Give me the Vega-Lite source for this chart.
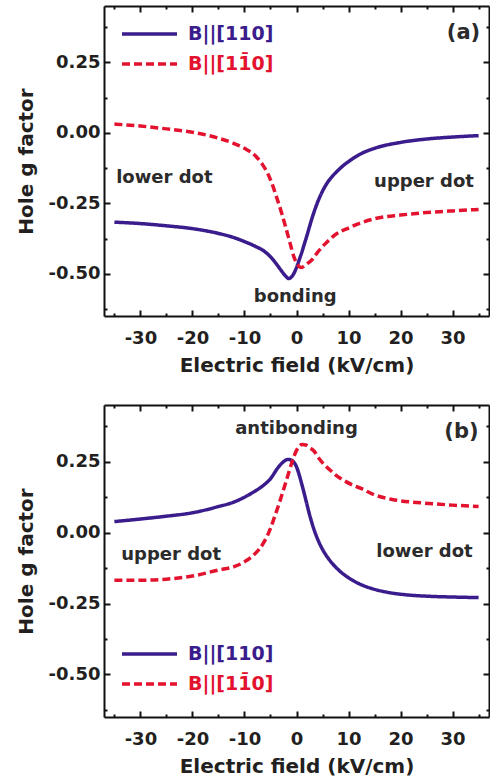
{
  "$schema": "https://vega.github.io/schema/vega-lite/v6.json",
  "padding": {"left": 16, "top": 5, "right": 0, "bottom": 0},
  "background": "white",
  "config": {
    "view": {"stroke": null},
    "font": "DejaVu Sans",
    "axis": {
      "grid": false,
      "domainColor": "#111111",
      "domainWidth": 2,
      "tickColor": "#111111",
      "tickWidth": 2,
      "labelFont": "DejaVu Sans",
      "labelFontWeight": "bold",
      "labelFontSize": 18,
      "labelColor": "#231f20",
      "labelOverlap": false,
      "labelFlush": false,
      "titleFont": "DejaVu Sans",
      "titleFontWeight": "bold",
      "titleFontSize": 20,
      "titleColor": "#231f20"
    }
  },
  "datasets": {
    "curvesA": [
      {"series": "B||[110]", "E": -35, "g": -0.317},
      {"series": "B||[110]", "E": -30, "g": -0.322},
      {"series": "B||[110]", "E": -25, "g": -0.330},
      {"series": "B||[110]", "E": -20, "g": -0.340},
      {"series": "B||[110]", "E": -15, "g": -0.357},
      {"series": "B||[110]", "E": -12, "g": -0.372},
      {"series": "B||[110]", "E": -10, "g": -0.386},
      {"series": "B||[110]", "E": -8, "g": -0.402},
      {"series": "B||[110]", "E": -6, "g": -0.423},
      {"series": "B||[110]", "E": -5, "g": -0.440},
      {"series": "B||[110]", "E": -4, "g": -0.462},
      {"series": "B||[110]", "E": -3, "g": -0.487},
      {"series": "B||[110]", "E": -2, "g": -0.510},
      {"series": "B||[110]", "E": -1.5, "g": -0.517},
      {"series": "B||[110]", "E": -1, "g": -0.512},
      {"series": "B||[110]", "E": -0.5, "g": -0.499},
      {"series": "B||[110]", "E": 0, "g": -0.478},
      {"series": "B||[110]", "E": 0.5, "g": -0.452},
      {"series": "B||[110]", "E": 1, "g": -0.425},
      {"series": "B||[110]", "E": 1.5, "g": -0.395},
      {"series": "B||[110]", "E": 2, "g": -0.365},
      {"series": "B||[110]", "E": 2.5, "g": -0.333},
      {"series": "B||[110]", "E": 3, "g": -0.302},
      {"series": "B||[110]", "E": 3.5, "g": -0.274},
      {"series": "B||[110]", "E": 4, "g": -0.249},
      {"series": "B||[110]", "E": 5, "g": -0.207},
      {"series": "B||[110]", "E": 6, "g": -0.175},
      {"series": "B||[110]", "E": 7, "g": -0.152},
      {"series": "B||[110]", "E": 8, "g": -0.133},
      {"series": "B||[110]", "E": 9, "g": -0.116},
      {"series": "B||[110]", "E": 10, "g": -0.102},
      {"series": "B||[110]", "E": 12, "g": -0.078},
      {"series": "B||[110]", "E": 15, "g": -0.055},
      {"series": "B||[110]", "E": 20, "g": -0.034},
      {"series": "B||[110]", "E": 25, "g": -0.022},
      {"series": "B||[110]", "E": 30, "g": -0.015},
      {"series": "B||[110]", "E": 35, "g": -0.010},
      {"series": "B||[11\u03040]", "E": -35, "g": 0.031},
      {"series": "B||[11\u03040]", "E": -30, "g": 0.024},
      {"series": "B||[11\u03040]", "E": -25, "g": 0.014},
      {"series": "B||[11\u03040]", "E": -20, "g": 0.002},
      {"series": "B||[11\u03040]", "E": -15, "g": -0.019},
      {"series": "B||[11\u03040]", "E": -12, "g": -0.038},
      {"series": "B||[11\u03040]", "E": -10, "g": -0.055},
      {"series": "B||[11\u03040]", "E": -8, "g": -0.080},
      {"series": "B||[11\u03040]", "E": -6.6, "g": -0.111},
      {"series": "B||[11\u03040]", "E": -5.5, "g": -0.145},
      {"series": "B||[11\u03040]", "E": -4.7, "g": -0.181},
      {"series": "B||[11\u03040]", "E": -3.8, "g": -0.230},
      {"series": "B||[11\u03040]", "E": -2.8, "g": -0.288},
      {"series": "B||[11\u03040]", "E": -2, "g": -0.340},
      {"series": "B||[11\u03040]", "E": -1.2, "g": -0.394},
      {"series": "B||[11\u03040]", "E": -0.5, "g": -0.440},
      {"series": "B||[11\u03040]", "E": 0.1, "g": -0.464},
      {"series": "B||[11\u03040]", "E": 0.6, "g": -0.476},
      {"series": "B||[11\u03040]", "E": 1, "g": -0.478},
      {"series": "B||[11\u03040]", "E": 1.5, "g": -0.472},
      {"series": "B||[11\u03040]", "E": 2, "g": -0.465},
      {"series": "B||[11\u03040]", "E": 2.9, "g": -0.452},
      {"series": "B||[11\u03040]", "E": 4, "g": -0.425},
      {"series": "B||[11\u03040]", "E": 5.5, "g": -0.394},
      {"series": "B||[11\u03040]", "E": 7, "g": -0.368},
      {"series": "B||[11\u03040]", "E": 8.5, "g": -0.350},
      {"series": "B||[11\u03040]", "E": 10, "g": -0.338},
      {"series": "B||[11\u03040]", "E": 12, "g": -0.322},
      {"series": "B||[11\u03040]", "E": 15, "g": -0.305},
      {"series": "B||[11\u03040]", "E": 20, "g": -0.292},
      {"series": "B||[11\u03040]", "E": 25, "g": -0.283},
      {"series": "B||[11\u03040]", "E": 30, "g": -0.277},
      {"series": "B||[11\u03040]", "E": 35, "g": -0.272}
    ],
    "curvesB": [
      {"series": "B||[110]", "E": -35, "g": 0.039},
      {"series": "B||[110]", "E": -30, "g": 0.048},
      {"series": "B||[110]", "E": -25, "g": 0.058},
      {"series": "B||[110]", "E": -20, "g": 0.070},
      {"series": "B||[110]", "E": -15, "g": 0.092},
      {"series": "B||[110]", "E": -12, "g": 0.108},
      {"series": "B||[110]", "E": -10, "g": 0.125},
      {"series": "B||[110]", "E": -8, "g": 0.146},
      {"series": "B||[110]", "E": -6.2, "g": 0.169},
      {"series": "B||[110]", "E": -5, "g": 0.190},
      {"series": "B||[110]", "E": -3.6, "g": 0.228},
      {"series": "B||[110]", "E": -2.5, "g": 0.250},
      {"series": "B||[110]", "E": -1.7, "g": 0.258},
      {"series": "B||[110]", "E": -1.2, "g": 0.257},
      {"series": "B||[110]", "E": -0.6, "g": 0.250},
      {"series": "B||[110]", "E": 0, "g": 0.232},
      {"series": "B||[110]", "E": 0.5, "g": 0.205},
      {"series": "B||[110]", "E": 1, "g": 0.172},
      {"series": "B||[110]", "E": 1.5, "g": 0.137},
      {"series": "B||[110]", "E": 2, "g": 0.100},
      {"series": "B||[110]", "E": 2.5, "g": 0.064},
      {"series": "B||[110]", "E": 3, "g": 0.032},
      {"series": "B||[110]", "E": 3.5, "g": 0.004},
      {"series": "B||[110]", "E": 4, "g": -0.020},
      {"series": "B||[110]", "E": 4.5, "g": -0.041},
      {"series": "B||[110]", "E": 5, "g": -0.059},
      {"series": "B||[110]", "E": 6, "g": -0.088},
      {"series": "B||[110]", "E": 7, "g": -0.111},
      {"series": "B||[110]", "E": 8, "g": -0.130},
      {"series": "B||[110]", "E": 9, "g": -0.146},
      {"series": "B||[110]", "E": 10, "g": -0.159},
      {"series": "B||[110]", "E": 12, "g": -0.180},
      {"series": "B||[110]", "E": 15, "g": -0.200},
      {"series": "B||[110]", "E": 18, "g": -0.212},
      {"series": "B||[110]", "E": 21, "g": -0.219},
      {"series": "B||[110]", "E": 25, "g": -0.224},
      {"series": "B||[110]", "E": 30, "g": -0.227},
      {"series": "B||[110]", "E": 35, "g": -0.229},
      {"series": "B||[11\u03040]", "E": -35, "g": -0.168},
      {"series": "B||[11\u03040]", "E": -30, "g": -0.168},
      {"series": "B||[11\u03040]", "E": -25, "g": -0.164},
      {"series": "B||[11\u03040]", "E": -20, "g": -0.153},
      {"series": "B||[11\u03040]", "E": -15, "g": -0.132},
      {"series": "B||[11\u03040]", "E": -12, "g": -0.120},
      {"series": "B||[11\u03040]", "E": -10, "g": -0.103},
      {"series": "B||[11\u03040]", "E": -8, "g": -0.075},
      {"series": "B||[11\u03040]", "E": -6.2, "g": -0.032},
      {"series": "B||[11\u03040]", "E": -5, "g": 0.015},
      {"series": "B||[11\u03040]", "E": -4.3, "g": 0.051},
      {"series": "B||[11\u03040]", "E": -3.3, "g": 0.105},
      {"series": "B||[11\u03040]", "E": -2.4, "g": 0.157},
      {"series": "B||[11\u03040]", "E": -1.6, "g": 0.205},
      {"series": "B||[11\u03040]", "E": -0.8, "g": 0.252},
      {"series": "B||[11\u03040]", "E": 0, "g": 0.290},
      {"series": "B||[11\u03040]", "E": 0.5, "g": 0.305},
      {"series": "B||[11\u03040]", "E": 1.1, "g": 0.311},
      {"series": "B||[11\u03040]", "E": 1.8, "g": 0.309},
      {"series": "B||[11\u03040]", "E": 2.5, "g": 0.300},
      {"series": "B||[11\u03040]", "E": 3.4, "g": 0.287},
      {"series": "B||[11\u03040]", "E": 4.3, "g": 0.262},
      {"series": "B||[11\u03040]", "E": 5.3, "g": 0.240},
      {"series": "B||[11\u03040]", "E": 6.5, "g": 0.220},
      {"series": "B||[11\u03040]", "E": 7.8, "g": 0.199},
      {"series": "B||[11\u03040]", "E": 9, "g": 0.185},
      {"series": "B||[11\u03040]", "E": 11, "g": 0.166},
      {"series": "B||[11\u03040]", "E": 12.5, "g": 0.155},
      {"series": "B||[11\u03040]", "E": 15, "g": 0.133},
      {"series": "B||[11\u03040]", "E": 18.4, "g": 0.117},
      {"series": "B||[11\u03040]", "E": 22, "g": 0.108},
      {"series": "B||[11\u03040]", "E": 24.7, "g": 0.104},
      {"series": "B||[11\u03040]", "E": 30, "g": 0.097},
      {"series": "B||[11\u03040]", "E": 35, "g": 0.092}
    ],
    "notesA": [
      {"E": -25.4, "g": -0.179, "text": "lower dot"},
      {"E": 24.5, "g": -0.191, "text": "upper dot"},
      {"E": -0.25, "g": -0.60, "text": "bonding"}
    ],
    "notesB": [
      {"E": 0, "g": 0.348, "text": "antibonding"},
      {"E": -24.1, "g": -0.096, "text": "upper dot"},
      {"E": 24.6, "g": -0.087, "text": "lower dot"}
    ],
    "tagA": [{"E": 35.3, "g": 0.332, "text": "(a)"}],
    "tagB": [{"E": 35.0, "g": 0.334, "text": "(b)"}]
  },
  "spacing": 29,
  "resolve": {
    "scale": {"color": "independent", "strokeDash": "independent"},
    "legend": {"color": "independent", "strokeDash": "independent"}
  },
  "vconcat": [
    {
      "width": 385,
      "height": 310,
      "resolve": {"axis": {"x": "independent", "y": "independent"}},
      "layer": [
        {
          "data": {"name": "curvesA"},
          "mark": {"type": "line", "strokeWidth": 3.5, "interpolate": "monotone"},
          "encoding": {
            "x": {
              "field": "E", "type": "quantitative",
              "scale": {"domain": [-37, 37], "nice": false, "zero": false},
              "axis": {
                "orient": "bottom",
                "values": [-35, -30, -25, -20, -15, -10, -5, 0, 5, 10, 15, 20, 25, 30, 35],
                "labelExpr": "datum.value % 10 == 0 ? (datum.value < 0 ? '-' + (-datum.value) : '' + datum.value) : ''",
                "tickSize": {"condition": {"test": "datum.value % 10 != 0", "value": -3}, "value": -6},
                "labelPadding": 19,
                "title": "Electric field (kV/cm)",
                "titlePadding": 5
              }
            },
            "y": {
              "field": "g", "type": "quantitative",
              "scale": {"domain": [-0.65, 0.45], "nice": false, "zero": false},
              "axis": {
                "orient": "left",
                "values": [-0.625, -0.5, -0.375, -0.25, -0.125, 0, 0.125, 0.25, 0.375],
                "labelExpr": "abs(datum.value * 4 - round(datum.value * 4)) < 0.001 ? (datum.value < 0 ? '-' + format(-datum.value, '.2f') : format(datum.value, '.2f')) : ''",
                "tickSize": {"condition": {"test": "abs(datum.value * 4 - round(datum.value * 4)) > 0.001", "value": -3}, "value": -6},
                "labelPadding": 10,
                "title": "Hole g factor",
                "titlePadding": 12
              }
            },
            "color": {
              "field": "series", "type": "nominal",
              "scale": {"domain": ["B||[110]", "B||[11\u03040]"], "range": ["#3b1c8c", "#e3122f"]},
              "legend": {
                "orient": "none", "legendX": 16, "legendY": 18,
                "title": null,
                "symbolType": "stroke", "symbolSize": 3025, "symbolStrokeWidth": 3.5,
                "clipHeight": 20, "rowPadding": 10, "labelOffset": 9,
                "labelFont": "DejaVu Sans", "labelFontWeight": "bold", "labelFontSize": 19,
                "labelColor": {"expr": "datum.value == 'B||[110]' ? '#3b1c8c' : '#e3122f'"}
              }
            },
            "strokeDash": {
              "field": "series", "type": "nominal",
              "scale": {"domain": ["B||[110]", "B||[11\u03040]"], "range": [[1, 0], [8, 4]]},
              "legend": {
                "orient": "none", "legendX": 16, "legendY": 18,
                "title": null,
                "symbolType": "stroke", "symbolSize": 3025, "symbolStrokeWidth": 3.5,
                "clipHeight": 20, "rowPadding": 10, "labelOffset": 9,
                "labelFont": "DejaVu Sans", "labelFontWeight": "bold", "labelFontSize": 19,
                "labelColor": {"expr": "datum.value == 'B||[110]' ? '#3b1c8c' : '#e3122f'"}
              }
            }
          }
        },
        {
          "data": {"name": "notesA"},
          "mark": {"type": "text", "font": "DejaVu Sans", "fontWeight": "bold", "fontSize": 18, "color": "#2b2b2b", "align": "center", "baseline": "alphabetic"},
          "encoding": {
            "x": {
              "field": "E", "type": "quantitative",
              "scale": {"domain": [-37, 37], "nice": false, "zero": false},
              "axis": {
                "orient": "top", "labels": false, "title": null,
                "values": [-35, -30, -25, -20, -15, -10, -5, 0, 5, 10, 15, 20, 25, 30, 35],
                "tickSize": {"condition": {"test": "datum.value % 10 != 0", "value": -3}, "value": -6}
              }
            },
            "y": {
              "field": "g", "type": "quantitative",
              "scale": {"domain": [-0.65, 0.45], "nice": false, "zero": false},
              "axis": {
                "orient": "right", "labels": false, "title": null,
                "values": [-0.625, -0.5, -0.375, -0.25, -0.125, 0, 0.125, 0.25, 0.375],
                "tickSize": {"condition": {"test": "abs(datum.value * 4 - round(datum.value * 4)) > 0.001", "value": -3}, "value": -6}
              }
            },
            "text": {"field": "text", "type": "nominal"}
          }
        },
        {
          "data": {"name": "tagA"},
          "mark": {"type": "text", "font": "DejaVu Sans", "fontWeight": "bold", "fontSize": 21, "color": "#2b2b2b", "align": "right", "baseline": "alphabetic"},
          "encoding": {
            "x": {"field": "E", "type": "quantitative", "axis": null},
            "y": {"field": "g", "type": "quantitative", "axis": null},
            "text": {"field": "text", "type": "nominal"}
          }
        }
      ]
    },
    {
      "width": 385,
      "height": 312,
      "resolve": {"axis": {"x": "independent", "y": "independent"}},
      "layer": [
        {
          "data": {"name": "curvesB"},
          "mark": {"type": "line", "strokeWidth": 3.5, "interpolate": "monotone"},
          "encoding": {
            "x": {
              "field": "E", "type": "quantitative",
              "scale": {"domain": [-37, 37], "nice": false, "zero": false},
              "axis": {
                "orient": "bottom",
                "values": [-35, -30, -25, -20, -15, -10, -5, 0, 5, 10, 15, 20, 25, 30, 35],
                "labelExpr": "datum.value % 10 == 0 ? (datum.value < 0 ? '-' + (-datum.value) : '' + datum.value) : ''",
                "tickSize": {"condition": {"test": "datum.value % 10 != 0", "value": -3}, "value": -6},
                "labelPadding": 19,
                "title": "Electric field (kV/cm)",
                "titlePadding": 5
              }
            },
            "y": {
              "field": "g", "type": "quantitative",
              "scale": {"domain": [-0.65, 0.45], "nice": false, "zero": false},
              "axis": {
                "orient": "left",
                "values": [-0.625, -0.5, -0.375, -0.25, -0.125, 0, 0.125, 0.25, 0.375],
                "labelExpr": "abs(datum.value * 4 - round(datum.value * 4)) < 0.001 ? (datum.value < 0 ? '-' + format(-datum.value, '.2f') : format(datum.value, '.2f')) : ''",
                "tickSize": {"condition": {"test": "abs(datum.value * 4 - round(datum.value * 4)) > 0.001", "value": -3}, "value": -6},
                "labelPadding": 10,
                "title": "Hole g factor",
                "titlePadding": 12
              }
            },
            "color": {
              "field": "series", "type": "nominal",
              "scale": {"domain": ["B||[110]", "B||[11\u03040]"], "range": ["#3b1c8c", "#e3122f"]},
              "legend": {
                "orient": "none", "legendX": 16, "legendY": 239,
                "title": null,
                "symbolType": "stroke", "symbolSize": 3025, "symbolStrokeWidth": 3.5,
                "clipHeight": 20, "rowPadding": 10, "labelOffset": 9,
                "labelFont": "DejaVu Sans", "labelFontWeight": "bold", "labelFontSize": 19,
                "labelColor": {"expr": "datum.value == 'B||[110]' ? '#3b1c8c' : '#e3122f'"}
              }
            },
            "strokeDash": {
              "field": "series", "type": "nominal",
              "scale": {"domain": ["B||[110]", "B||[11\u03040]"], "range": [[1, 0], [8, 4]]},
              "legend": {
                "orient": "none", "legendX": 16, "legendY": 239,
                "title": null,
                "symbolType": "stroke", "symbolSize": 3025, "symbolStrokeWidth": 3.5,
                "clipHeight": 20, "rowPadding": 10, "labelOffset": 9,
                "labelFont": "DejaVu Sans", "labelFontWeight": "bold", "labelFontSize": 19,
                "labelColor": {"expr": "datum.value == 'B||[110]' ? '#3b1c8c' : '#e3122f'"}
              }
            }
          }
        },
        {
          "data": {"name": "notesB"},
          "mark": {"type": "text", "font": "DejaVu Sans", "fontWeight": "bold", "fontSize": 18, "color": "#2b2b2b", "align": "center", "baseline": "alphabetic"},
          "encoding": {
            "x": {
              "field": "E", "type": "quantitative",
              "scale": {"domain": [-37, 37], "nice": false, "zero": false},
              "axis": {
                "orient": "top", "labels": false, "title": null,
                "values": [-35, -30, -25, -20, -15, -10, -5, 0, 5, 10, 15, 20, 25, 30, 35],
                "tickSize": {"condition": {"test": "datum.value % 10 != 0", "value": -3}, "value": -6}
              }
            },
            "y": {
              "field": "g", "type": "quantitative",
              "scale": {"domain": [-0.65, 0.45], "nice": false, "zero": false},
              "axis": {
                "orient": "right", "labels": false, "title": null,
                "values": [-0.625, -0.5, -0.375, -0.25, -0.125, 0, 0.125, 0.25, 0.375],
                "tickSize": {"condition": {"test": "abs(datum.value * 4 - round(datum.value * 4)) > 0.001", "value": -3}, "value": -6}
              }
            },
            "text": {"field": "text", "type": "nominal"}
          }
        },
        {
          "data": {"name": "tagB"},
          "mark": {"type": "text", "font": "DejaVu Sans", "fontWeight": "bold", "fontSize": 21, "color": "#2b2b2b", "align": "right", "baseline": "alphabetic"},
          "encoding": {
            "x": {"field": "E", "type": "quantitative", "axis": null},
            "y": {"field": "g", "type": "quantitative", "axis": null},
            "text": {"field": "text", "type": "nominal"}
          }
        }
      ]
    }
  ]
}
